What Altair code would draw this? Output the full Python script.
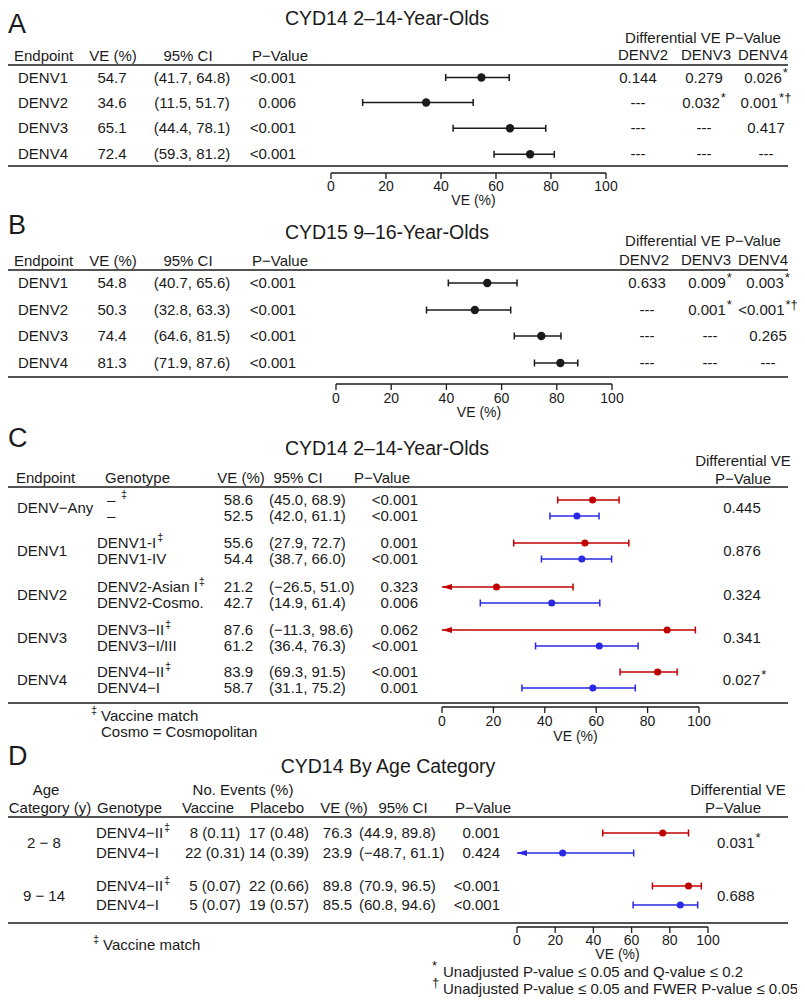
import altair as alt
import pandas as pd

FONT = "Liberation Sans"
RED = "#C00000"
BLUE = "#2A2AE6"
INK = "#1a1a1a"
M = 8  # page margin

# ---------------- data ----------------
TICKS = [0, 20, 40, 60, 80, 100]
DIFF_COLS = ["DENV2", "DENV3", "DENV4"]

# Panel A
A_title = "CYD14 2–14-Year-Olds"
A_endpoint = ["DENV1", "DENV2", "DENV3", "DENV4"]
A_ve = [54.7, 34.6, 65.1, 72.4]
A_lo = [41.7, 11.5, 44.4, 59.3]
A_hi = [64.8, 51.7, 78.1, 81.2]
A_p = ["<0.001", "0.006", "<0.001", "<0.001"]
A_diff = [["0.144", "0.279", "0.026"], ["---", "0.032", "0.001"],
          ["---", "---", "0.417"], ["---", "---", "---"]]
A_sup = [["", "", "*"], ["", "*", "*†"], ["", "", ""], ["", "", ""]]

# Panel B
B_title = "CYD15 9–16-Year-Olds"
B_endpoint = ["DENV1", "DENV2", "DENV3", "DENV4"]
B_ve = [54.8, 50.3, 74.4, 81.3]
B_lo = [40.7, 32.8, 64.6, 71.9]
B_hi = [65.6, 63.3, 81.5, 87.6]
B_p = ["<0.001", "<0.001", "<0.001", "<0.001"]
B_diff = [["0.633", "0.009", "0.003"], ["---", "0.001", "<0.001"],
          ["---", "---", "0.265"], ["---", "---", "---"]]
B_sup = [["", "*", "*"], ["", "*", "*†"], ["", "", ""], ["", "", ""]]

# Panel C
C_title = "CYD14 2–14-Year-Olds"
C_group = ["DENV−Any", "DENV1", "DENV2", "DENV3", "DENV4"]
C_genotype = ["–", "–", "DENV1-I", "DENV1-IV", "DENV2-Asian I", "DENV2-Cosmo.",
              "DENV3−II", "DENV3−I/III", "DENV4−II", "DENV4−I"]
C_match = [True, False] * 5
C_ve = [58.6, 52.5, 55.6, 54.4, 21.2, 42.7, 87.6, 61.2, 83.9, 58.7]
C_lo = [45.0, 42.0, 27.9, 38.7, -26.5, 14.9, -11.3, 36.4, 69.3, 31.1]
C_hi = [68.9, 61.1, 72.7, 66.0, 51.0, 61.4, 98.6, 76.3, 91.5, 75.2]
C_p = ["<0.001", "<0.001", "0.001", "<0.001", "0.323", "0.006", "0.062", "<0.001", "<0.001", "0.001"]
C_diff = ["0.445", "0.876", "0.324", "0.341", "0.027"]
C_diff_sup = ["", "", "", "", "*"]

# Panel D
D_title = "CYD14 By Age Category"
D_age = ["2 − 8", "9 − 14"]
D_genotype = ["DENV4−II", "DENV4−I", "DENV4−II", "DENV4−I"]
D_match = [True, False, True, False]
D_vaccine = ["8 (0.11)", "22 (0.31)", "5 (0.07)", "5 (0.07)"]
D_placebo = ["17 (0.48)", "14 (0.39)", "22 (0.66)", "19 (0.57)"]
D_ve = [76.3, 23.9, 89.8, 85.5]
D_lo = [44.9, -48.7, 70.9, 60.8]
D_hi = [89.8, 61.1, 96.5, 94.6]
D_p = ["0.001", "0.424", "<0.001", "<0.001"]
D_diff = ["0.031", "0.688"]
D_diff_sup = ["*", ""]

FOOT_STAR = "Unadjusted P-value ≤ 0.05 and Q-value ≤ 0.2"
FOOT_DAGGER = "Unadjusted P-value ≤ 0.05 and FWER P-value ≤ 0.05"

# ---------------- helpers ----------------
W = {" ": .278, ".": .278, ",": .278, "-": .333, "−": .584, "–": .556, "(": .333, ")": .333,
     "<": .584, "/": .278, "I": .278, "D": .722, "E": .667, "N": .722, "V": .667, "A": .667,
     "C": .722, "s": .5, "i": .222, "a": .556, "n": .556, "o": .556, "m": .833, "*": .389, "†": .556}
SUP = 13
AXFS = 14


def tw(s, size=15):
    return sum(W.get(ch, 0.556) for ch in s) * size


def fmt(v):
    return ("−" if v < 0 else "") + f"{abs(v):.1f}"


def ci(lo, hi):
    return f"({fmt(lo)}, {fmt(hi)})"


layers = []


def text(items, size=15, align="left", color=INK):
    if not items:
        return
    df = pd.DataFrame(items, columns=["t", "x", "y"])
    df["x"] = df["x"] - M
    df["y"] = df["y"] - M
    layers.append(
        alt.Chart(df).mark_text(font=FONT, fontSize=size, align=align, baseline="middle", color=color)
        .encode(x=alt.X("x:Q", scale=None, axis=None), y=alt.Y("y:Q", scale=None, axis=None), text="t:N")
    )


def hline(y, x0=8, x1=788, w=1.6):
    layers.append(
        alt.Chart(pd.DataFrame({"a": [0]})).mark_rule(color=INK, strokeWidth=w)
        .encode(x=alt.value(x0 - M), x2=alt.value(x1 - M), y=alt.value(y - M))
    )


def vscale(x0, x100):
    return alt.Scale(domain=[0, 100], range=[x0 - M, x100 - M], nice=False, zero=False)


def forest(ve, lo, hi, ys, colors, x0, x100, dot=55, cap=3.5):
    sc = vscale(x0, x100)
    df = pd.DataFrame({"ve": ve, "lo": lo, "hi": hi, "y": [y - M for y in ys], "c": colors})
    base = alt.Chart(df).transform_calculate(
        lc="max(datum.lo, 0)", ya=f"datum.y - {cap}", yb=f"datum.y + {cap}")
    C = alt.Color("c:N", scale=None)

    def X(f):
        return alt.X(f, scale=sc, axis=None)

    def Y(f):
        return alt.Y(f, scale=None, axis=None)

    layers.append(base.mark_rule(strokeWidth=1.5).encode(x=X("lc:Q"), x2="hi:Q", y=Y("y:Q"), color=C))
    layers.append(base.mark_rule(strokeWidth=1.5).encode(x=X("hi:Q"), y=Y("ya:Q"), y2="yb:Q", color=C))
    layers.append(base.transform_filter("datum.lo >= 0").mark_rule(strokeWidth=1.5)
                  .encode(x=X("lo:Q"), y=Y("ya:Q"), y2="yb:Q", color=C))
    layers.append(base.transform_filter("datum.lo < 0")
                  .mark_point(shape="M0,0L2,-0.62L2,0.62Z", filled=True, size=100, opacity=1, strokeWidth=0)
                  .encode(x=X("lc:Q"), y=Y("y:Q"), color=C))
    layers.append(base.mark_circle(size=dot, opacity=1).encode(x=X("ve:Q"), y=Y("y:Q"), color=C))


def axis(x0, x100, y, ylab, ytitle):
    sc = vscale(x0, x100)
    tdf = pd.DataFrame({"v": TICKS})
    layers.append(alt.Chart(pd.DataFrame({"a": [0], "b": [100]})).mark_rule(color=INK, strokeWidth=1.3)
                  .encode(x=alt.X("a:Q", scale=sc, axis=None), x2="b:Q", y=alt.value(y - M)))
    layers.append(alt.Chart(tdf).mark_rule(color=INK, strokeWidth=1.3)
                  .encode(x=alt.X("v:Q", scale=sc, axis=None), y=alt.value(y - M), y2=alt.value(y - M + 6)))
    layers.append(alt.Chart(tdf).mark_text(font=FONT, fontSize=AXFS, baseline="middle", color=INK)
                  .encode(x=alt.X("v:Q", scale=sc, axis=None), y=alt.value(ylab - M), text="v:Q"))
    layers.append(alt.Chart(pd.DataFrame({"v": [50], "t": ["VE (%)"]}))
                  .mark_text(font=FONT, fontSize=AXFS, baseline="middle", color=INK, dx=5)
                  .encode(x=alt.X("v:Q", scale=sc, axis=None), y=alt.value(ytitle - M), text="t:N"))


def sup_cells(vals, sups, cx, y, size=15, ssize=SUP):
    """number (left aligned, block centred on cx) + raised superscript"""
    main, sup, dash = [], [], []
    for v, s in zip(vals, sups):
        if v == "---":
            dash.append((v, cx, y))
            continue
        total = tw(v, size) + (tw(s, ssize) + 1 if s else 0)
        start = cx - total / 2
        main.append((v, start, y))
        if s:
            sup.append((s, start + tw(v, size) + 1, y - 5))
    text(main)
    text(dash, align="center")
    text(sup, size=ssize)


def letter_title(letter, ly, title, tx, ty):
    text([(letter, 8, ly)], size=27)
    text([(title, tx, ty)], size=19.5, align="center")


# ---------------- Panel A / B ----------------
def panel_ab(letter, ly, title, ty, dy_diff, y_head, y_top, y_bot, rows, endpoint, ve, lo, hi, p,
             diff, sup, col_c, head_c, fx0, fx100, ax_y, ax_lab, ax_title):
    letter_title(letter, ly, title, 387, ty)
    text([("Differential VE P−Value", 703, dy_diff)], align="center")
    text([("Endpoint", 14, y_head)])
    text([("VE (%)", 113, y_head), ("95% CI", 188, y_head), ("P−Value", 280, y_head)], align="center")
    text([(c, hx, y_head - 1) for c, hx in zip(DIFF_COLS, head_c)], align="center")
    hline(y_top, 8, 788)
    hline(y_bot, 8, 788)
    text([(e, 18, y) for e, y in zip(endpoint, rows)])
    text([(f"{v:.1f}", 112, y) for v, y in zip(ve, rows)], align="center")
    text([(ci(a, b), 192, y) for a, b, y in zip(lo, hi, rows)], align="center")
    text([(pv, 296, y) for pv, y in zip(p, rows)], align="right")
    for j in range(3):
        for i, y in enumerate(rows):
            sup_cells([diff[i][j]], [sup[i][j]], col_c[j], y)
    forest(ve, lo, hi, rows, [INK] * 4, fx0, fx100, dot=70, cap=3.5)
    axis(fx0, fx100, ax_y, ax_lab, ax_title)


panel_ab("A", 25, A_title, 19, 38, 56, 65, 166, [77.5, 102.5, 128.3, 154.3], A_endpoint, A_ve, A_lo, A_hi, A_p,
         A_diff, A_sup, [638, 704, 766], [643, 706, 763], 331, 606, 173, 187, 201)
panel_ab("B", 226, B_title, 233, 241, 261, 270, 377, [283, 310, 336, 363], B_endpoint, B_ve, B_lo, B_hi, B_p,
         B_diff, B_sup, [647, 710, 768], [644, 706, 763], 336, 612, 384, 399, 413)

# ---------------- Panel C ----------------
letter_title("C", 439, C_title, 387, 449)
text([("Differential VE", 743, 461), ("P−Value", 743, 479)], align="center")
text([("Endpoint", 16, 478), ("Genotype", 105, 478)])
text([("VE (%)", 241, 478), ("95% CI", 298, 478), ("P−Value", 382, 478)], align="center")
hline(487, 8, 788)
hline(703, 8, 788)
C_rows = [500, 516, 543, 559, 587, 603, 630, 646, 672, 688]
C_mid = [(C_rows[2 * k] + C_rows[2 * k + 1]) / 2 for k in range(5)]
C_cols = [RED if m else BLUE for m in C_match]
text([(g, 17, y) for g, y in zip(C_group, C_mid)])
gen_items, gen_sup = [], []
for g, m, y in zip(C_genotype, C_match, C_rows):
    if g == "–":
        gen_items.append((g, 107, y))
        if m:
            gen_sup.append(("‡", 121, y - 5))
    else:
        gen_items.append((g, 97, y))
        if m:
            gen_sup.append(("‡", 97 + tw(g) + 1, y - 5))
text(gen_items)
text(gen_sup, size=11)
text([(f"{v:.1f}", 253, y) for v, y in zip(C_ve, C_rows)], align="right")
text([(ci(a, b), 269, y) for a, b, y in zip(C_lo, C_hi, C_rows)])
text([(pv, 418, y) for pv, y in zip(C_p, C_rows)], align="right")
for d, s, y in zip(C_diff, C_diff_sup, C_mid):
    sup_cells([d], [s], 742 + (tw(s, SUP) / 2 if s else 0), y)
forest(C_ve, C_lo, C_hi, C_rows, C_cols, 442, 699, dot=50, cap=3.5)
axis(442, 699, 707, 722, 737)
text([("‡", 91, 711)], size=11)
text([("Vaccine match", 101, 716), ("Cosmo = Cosmopolitan", 101, 732)])

# ---------------- Panel D ----------------
letter_title("D", 757, D_title, 388, 767)
text([("Age", 46, 790), ("No. Events (%)", 243, 790), ("Differential VE", 738, 790)], align="center")
text([("Category (y)", 50, 808), ("Vaccine", 208, 808), ("Placebo", 277, 808), ("VE (%)", 344, 808),
      ("95% CI", 403, 808), ("P−Value", 483, 808), ("P−Value", 733, 808)], align="center")
text([("Genotype", 97, 808)])
hline(817, 8, 788)
hline(923, 8, 788)
D_rows = [833, 853, 886, 905]
D_mid = [(D_rows[0] + D_rows[1]) / 2, (D_rows[2] + D_rows[3]) / 2]
D_cols = [RED if m else BLUE for m in D_match]
text([(a, 44, y) for a, y in zip(D_age, D_mid)], align="center")
text([(g, 96, y) for g, y in zip(D_genotype, D_rows)])
text([("‡", 96 + tw(g) + 1, y - 5) for g, m, y in zip(D_genotype, D_match, D_rows) if m], size=11)
text([(v, 215, y) for v, y in zip(D_vaccine, D_rows)], align="center")
text([(v, 279, y) for v, y in zip(D_placebo, D_rows)], align="center")
text([(f"{v:.1f}", 352, y) for v, y in zip(D_ve, D_rows)], align="right")
text([(ci(a, b), 359, y) for a, b, y in zip(D_lo, D_hi, D_rows)])
text([(pv, 500, y) for pv, y in zip(D_p, D_rows)], align="right")
for d, s, y in zip(D_diff, D_diff_sup, D_mid):
    text([(d, 717, y)])
    if s:
        text([(s, 717 + tw(d) + 1, y - 5)], size=SUP)
forest(D_ve, D_lo, D_hi, D_rows, D_cols, 517, 708, dot=50, cap=3.5)
axis(517, 708, 927, 941, 955)
text([("‡", 93, 940)], size=11)
text([("Vaccine match", 103, 945)])
text([("*", 432, 966), ("†", 432, 983)], size=13)
text([(FOOT_STAR, 443, 972), (FOOT_DAGGER, 443, 989)])

chart = (
    alt.layer(*layers)
    .resolve_scale(x="independent", y="independent", color="independent")
    .properties(width=789, height=989)
    .configure(padding=0, autosize=alt.AutoSizeParams(type="none"))
    .configure_view(stroke=None)
)
chart.save("out.html", embed_options={"renderer": "svg", "actions": False})
